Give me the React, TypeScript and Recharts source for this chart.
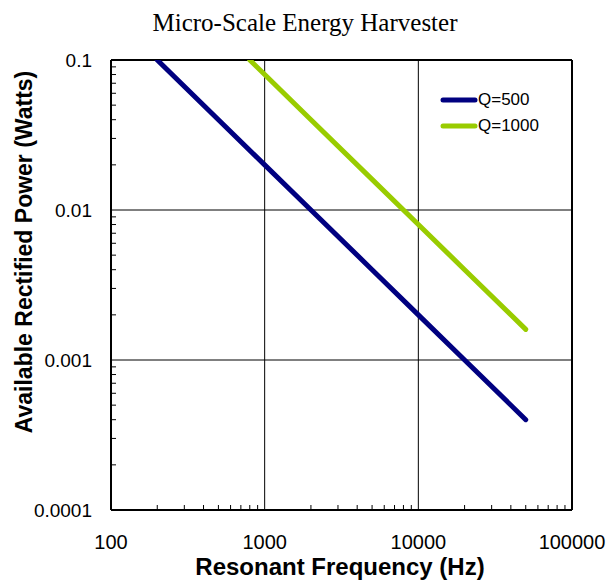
import React from "react";
import {
  LineChart,
  Line,
  XAxis,
  YAxis,
  ReferenceLine,
  Legend,
  Customized,
} from "recharts";

// Resonant frequency (Hz) and available rectified power (W) for each quality factor
const freqQ500 = [200, 500, 1000, 2000, 5000, 10000, 20000, 50000];
const powerQ500 = [0.1, 0.04, 0.02, 0.01, 0.004, 0.002, 0.001, 0.0004];
const freqQ1000 = [800, 1000, 2000, 5000, 10000, 20000, 50000];
const powerQ1000 = [0.1, 0.08, 0.04, 0.016, 0.008, 0.004, 0.0016];

const seriesNames = ["Q=500", "Q=1000"];
const seriesColors = ["#000080", "#99CC00"];

// Decade tick labels
const xMajorTicks = [100, 1000, 10000, 100000];
const yMajorTicks = [0.0001, 0.001, 0.01, 0.1];

// Minor ticks at 2..9 within each decade
const withMinor = (majors: number[]) => {
  const out: number[] = [];
  majors.forEach((m, i) => {
    out.push(m);
    if (i < majors.length - 1) {
      for (let k = 2; k <= 9; k++) out.push(Number((m * k).toPrecision(6)));
    }
  });
  return out;
};
const xTicks = withMinor(xMajorTicks);
const yTicks = withMinor(yMajorTicks);

const q500Data = freqQ500.map((f, i) => ({ f, p: powerQ500[i] }));
const q1000Data = freqQ1000.map((f, i) => ({ f, p: powerQ1000[i] }));

const SANS = "'Liberation Sans', Arial, sans-serif";
const SERIF = "'Liberation Serif', 'Times New Roman', serif";

const XTick = (props: any) => {
  const { x, y, payload } = props;
  const v = payload.value;
  const major = xMajorTicks.includes(v);
  return (
    <g>
      {!major && <line x1={x} x2={x} y1={y} y2={y - 5} stroke="#000" strokeWidth={1} />}
      {major && (
        <text x={x} y={y + 39} textAnchor="middle" fontSize={20} fontFamily={SANS} fill="#000">
          {String(v)}
        </text>
      )}
    </g>
  );
};

const YTick = (props: any) => {
  const { x, y, payload } = props;
  const v = payload.value;
  const major = yMajorTicks.some((m) => Math.abs(m - v) < m * 1e-6);
  return (
    <g>
      {!major && <line x1={x} x2={x + 5} y1={y} y2={y} stroke="#000" strokeWidth={1} />}
      {major && (
        <text x={x - 19} y={y} dy="0.35em" textAnchor="end" fontSize={19} fontFamily={SANS} fill="#000">
          {String(v)}
        </text>
      )}
    </g>
  );
};

const LegendBox = () => (
  <div style={{ fontFamily: SANS, fontSize: 17, color: "#000" }}>
    {seriesNames.map((name, i) => (
      <div key={name} style={{ display: "flex", alignItems: "center", height: 26 }}>
        <svg width={38} height={10} style={{ display: "block" }}>
          <line x1={3} x2={35} y1={5} y2={5} stroke={seriesColors[i]} strokeWidth={5} strokeLinecap="round" />
        </svg>
        <span style={{ lineHeight: "26px" }}>{name}</span>
      </div>
    ))}
  </div>
);

const Titles = () => (
  <g>
    <text x={305} y={31} textAnchor="middle" fontSize={25} fontFamily={SERIF} fill="#000">
      Micro-Scale Energy Harvester
    </text>
    <text x={340} y={575} textAnchor="middle" fontSize={24} fontWeight="bold" fontFamily={SANS} fill="#000">
      Resonant Frequency (Hz)
    </text>
    <text
      x={0}
      y={0}
      transform="translate(32,252) rotate(-90)"
      textAnchor="middle"
      fontSize={23}
      fontWeight="bold"
      fontFamily={SANS}
      fill="#000"
    >
      Available Rectified Power (Watts)
    </text>
  </g>
);

export default function App() {
  return (
    <div style={{ position: "absolute", left: 0, top: 0, background: "#fff" }}>
      <LineChart
        width={608}
        height={582}
        margin={{ top: 60, right: 36, left: 51, bottom: 0 }}
      >
        <XAxis
          dataKey="f"
          type="number"
          scale="log"
          domain={[100, 100000]}
          ticks={xTicks}
          interval={0}
          allowDataOverflow
          height={72}
          tickSize={0}
          tickMargin={0}
          tick={<XTick />}
          axisLine={{ stroke: "#000", strokeWidth: 2 }}
          tickLine={false}
        />
        <YAxis
          dataKey="p"
          type="number"
          scale="log"
          domain={[0.0001, 0.1]}
          ticks={yTicks}
          interval={0}
          allowDataOverflow
          width={60}
          tickSize={0}
          tickMargin={0}
          tick={<YTick />}
          axisLine={{ stroke: "#000", strokeWidth: 2 }}
          tickLine={false}
        />
        {xMajorTicks.slice(1, -1).map((v) => (
          <ReferenceLine key={`vx${v}`} x={v} stroke="#000" strokeWidth={1} />
        ))}
        {yMajorTicks.slice(1, -1).map((v) => (
          <ReferenceLine key={`hy${v}`} y={v} stroke="#000" strokeWidth={1} />
        ))}
        <ReferenceLine y={yMajorTicks[yMajorTicks.length - 1]} stroke="#000" strokeWidth={2} />
        <ReferenceLine x={xMajorTicks[xMajorTicks.length - 1]} stroke="#000" strokeWidth={2} />
        <Line
          data={q500Data}
          dataKey="p"
          name={seriesNames[0]}
          stroke={seriesColors[0]}
          strokeWidth={5}
          strokeLinecap="round"
          dot={false}
          activeDot={false}
          isAnimationActive={false}
        />
        <Line
          data={q1000Data}
          dataKey="p"
          name={seriesNames[1]}
          stroke={seriesColors[1]}
          strokeWidth={5}
          strokeLinecap="round"
          dot={false}
          activeDot={false}
          isAnimationActive={false}
        />
        <Legend
          layout="vertical"
          align="center"
          verticalAlign="middle"
          content={<LegendBox />}
          wrapperStyle={{ position: "absolute", left: 440, top: 87, width: 130, right: "auto", bottom: "auto" }}
        />
        <Customized component={Titles} />
      </LineChart>
    </div>
  );
}
